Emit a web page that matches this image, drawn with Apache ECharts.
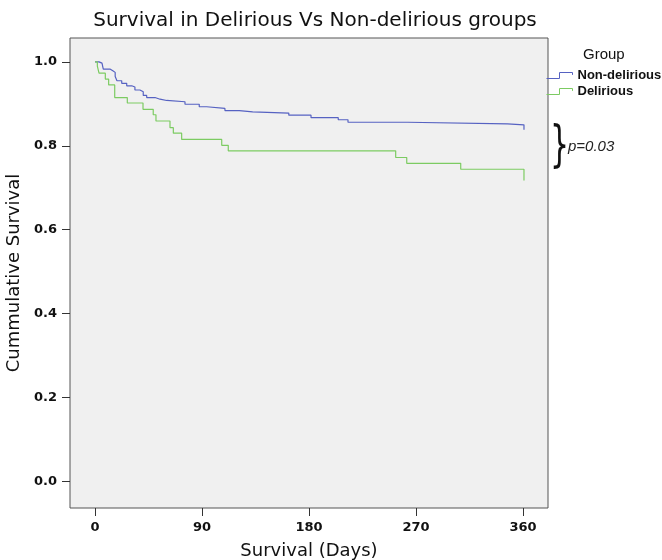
<!DOCTYPE html>
<html>
<head>
<meta charset="utf-8">
<script src="https://cdn.jsdelivr.net/npm/echarts@6/dist/echarts.min.js"></script>
<style>
html,body{margin:0;padding:0;background:#fff;}
#chart{width:662px;height:560px;}
</style>
</head>
<body>
<div id="chart"></div>
<script>
const titleText = "Survival in Delirious Vs Non-delirious groups";
const xAxisTitle = "Survival (Days)";
const yAxisTitle = "Cummulative Survival";
const seriesNames = ["Non-delirious", "Delirious"];
const xTicks = [0, 90, 180, 270, 360];
const yTicks = [0, 0.2, 0.4, 0.6, 0.8, 1.0];

const daysNonDelirious = [0, 3.4, 5.9, 7, 12.6, 15, 17, 18.5, 22.5, 26.7, 30.9, 33.6, 37.8, 40.6, 43.5, 50.5, 54.7, 60.3, 75.7, 87.7, 93.9, 109.3, 121.4, 132.6, 163, 181.7, 204.6, 212.8, 262.8, 346.9, 360.8];
const survNonDelirious = [1.0, 0.997, 0.993, 0.983, 0.979, 0.975, 0.965, 0.955, 0.949, 0.943, 0.940, 0.933, 0.929, 0.920, 0.915, 0.911, 0.908, 0.905, 0.899, 0.893, 0.889, 0.884, 0.881, 0.878, 0.873, 0.867, 0.862, 0.856, 0.852, 0.850, 0.838];

const daysDelirious = [0, 2, 3.4, 8.7, 11.5, 16.6, 27.2, 40.4, 49, 51.3, 63.1, 65.9, 72.9, 106.6, 112.1, 252.9, 262.2, 307.6, 360.8];
const survDelirious = [1.0, 0.99, 0.973, 0.959, 0.945, 0.915, 0.902, 0.887, 0.874, 0.859, 0.843, 0.830, 0.815, 0.801, 0.788, 0.772, 0.758, 0.744, 0.717];

const pValueText = "p=0.03";

const colors = ['#5662c2', '#7ccb62'];
const pair = (xs, ys) => xs.map((x, i) => [x, ys[i]]);

const chart = echarts.init(document.getElementById('chart'), null, {renderer: 'canvas'});
const stepIcon = 'path://M0,10 L12,10 L12,0 L24,0 L24,4';
const FONT = 'DejaVu Sans, Liberation Sans, Arial, sans-serif';

chart.setOption({
  animation: false,
  backgroundColor: '#ffffff',
  textStyle: {fontFamily: FONT},
  title: {
    text: titleText,
    left: 310, top: 6, textAlign: 'center',
    textStyle: {fontSize: 20, fontWeight: 'normal', color: '#111', fontFamily: FONT}
  },
  grid: {
    left: 70, right: 114, top: 38, bottom: 52,
    outerBoundsMode: 'none', containLabel: false,
    show: true, backgroundColor: '#f0f0f0', borderColor: '#555', borderWidth: 1
  },
  legend: {
    orient: 'vertical', left: 546, top: 69, padding: 0,
    itemWidth: 26, itemHeight: 6, itemGap: 3,
    symbolKeepAspect: false,
    selectedMode: false,
    textStyle: {fontSize: 13, fontWeight: 'bold', color: '#111',
      fontFamily: 'Liberation Sans, Arial, sans-serif'},
    data: seriesNames.map((n, i) => ({
      name: n, icon: stepIcon,
      itemStyle: {color: 'transparent', borderColor: colors[i], borderWidth: 1}
    }))
  },
  xAxis: {
    type: 'value', min: -21, max: 381,
    name: xAxisTitle, nameLocation: 'middle', nameGap: 34,
    nameTextStyle: {fontSize: 18, color: '#111', fontFamily: FONT},
    axisLine: {show: false, onZero: false},
    splitLine: {show: false},
    axisTick: {show: true, length: 8, customValues: xTicks, lineStyle: {color: '#333'}},
    axisLabel: {customValues: xTicks, fontWeight: 'bold', fontSize: 13, color: '#111', margin: 13, fontFamily: FONT}
  },
  yAxis: {
    type: 'value', min: -0.064, max: 1.057,
    name: yAxisTitle, nameLocation: 'middle', nameGap: 43, nameRotate: 90,
    nameTextStyle: {fontSize: 18, color: '#111', fontFamily: FONT},
    axisLine: {show: false, onZero: false},
    splitLine: {show: false},
    axisTick: {show: true, length: 8, customValues: yTicks, lineStyle: {color: '#333'}},
    axisLabel: {customValues: yTicks, fontWeight: 'bold', fontSize: 13, color: '#111', margin: 13,
      fontFamily: FONT, formatter: v => v.toFixed(1)}
  },
  graphic: [
    {type: 'text', left: 550, top: 123, scaleX: 0.6,
      style: {text: '}', font: '50px DejaVu Sans', fill: '#111'}},
    {type: 'text', left: 568, top: 139,
      style: {text: pValueText, font: 'italic 15px Liberation Sans, Arial, sans-serif', fill: '#222'}},
    {type: 'text', left: 583, top: 47,
      style: {text: 'Group', font: '15px Liberation Sans, Arial, sans-serif', fill: '#111'}}
  ],
  series: [
    {name: seriesNames[0], type: 'line', step: 'end', showSymbol: false, symbol: 'none',
      data: pair(daysNonDelirious, survNonDelirious),
      lineStyle: {color: colors[0], width: 1.2}, itemStyle: {color: colors[0]}},
    {name: seriesNames[1], type: 'line', step: 'end', showSymbol: false, symbol: 'none',
      data: pair(daysDelirious, survDelirious),
      lineStyle: {color: colors[1], width: 1.2}, itemStyle: {color: colors[1]}}
  ]
});
</script>
</body>
</html>
